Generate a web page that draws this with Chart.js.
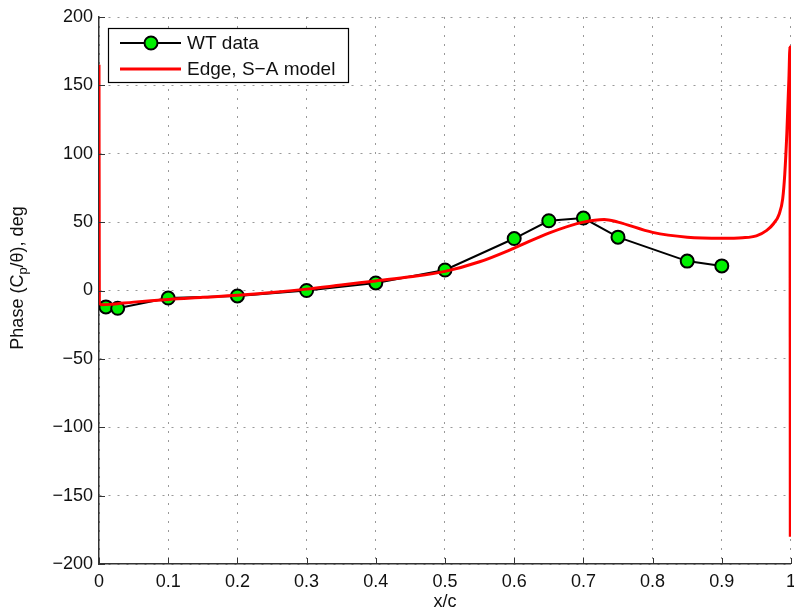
<!DOCTYPE html>
<html>
<head>
<meta charset="utf-8">
<script src="https://cdn.jsdelivr.net/npm/chart.js@4/dist/chart.umd.min.js"></script>
<style>
  html, body { margin: 0; padding: 0; background: #fff; overflow: hidden; }
  #wrap { width: 794px; height: 614px; overflow: hidden; }
</style>
</head>
<body>
<!-- canvas is a bit wider than the frame so the last x label can hang off the edge -->
<div id="wrap"><canvas id="phase-chart" width="803" height="614"></canvas></div>
<script>
// Wind tunnel measurements
const wtX = [0.01, 0.027, 0.1, 0.2, 0.3, 0.4, 0.5, 0.6, 0.65, 0.7, 0.75, 0.85, 0.9];
const wtPhase = [-12, -13, -5.5, -4, 0, 5.5, 15, 38, 51, 53, 39, 21.5, 18];

// Edge solver, Spalart-Allmaras
const edgeX = [0, 0.0005, 0.005, 0.02, 0.05, 0.1, 0.15, 0.2, 0.25, 0.3, 0.35, 0.4, 0.45, 0.5,
    0.55, 0.6, 0.65, 0.7, 0.73, 0.75, 0.8, 0.85, 0.9, 0.93, 0.95, 0.965, 0.975, 0.983, 0.988,
    0.991, 0.994, 0.997, 0.9985, 0.999];
const edgePhase = [165, -9, -10.5, -10, -8.5, -6.5, -5, -3.5, -1.5, 1, 4, 7, 10, 14,
    21, 31, 42, 50, 52, 50, 42.5, 39, 38.2, 38.6, 40, 44, 49, 56, 67,
    85, 115, 155, 178, -180];

const xTicks = [0, 0.1, 0.2, 0.3, 0.4, 0.5, 0.6, 0.7, 0.8, 0.9, 1];
const yTicks = [-200, -150, -100, -50, 0, 50, 100, 150, 200];

const FONT = '"Liberation Sans", Arial, Helvetica, sans-serif';
const AXIS_COLOR = '#333';

function toPoints(xs, ys) {
    return xs.map((x, i) => ({ x: x, y: ys[i] }));
}

function fmt(v) {
    const s = String(Math.round(v * 10) / 10);
    return s.replace('-', '\u2212');
}

// short ticks pointing into the plot, like the old matlab figures
const innerTicks = {
    id: 'innerTicks',
    afterDatasetsDraw(chart) {
        const { ctx, chartArea, scales } = chart;
        ctx.save();
        ctx.strokeStyle = AXIS_COLOR;
        ctx.lineWidth = 1;
        ctx.beginPath();
        xTicks.forEach(v => {
            const px = Math.round(scales.x.getPixelForValue(v)) + 0.5;
            ctx.moveTo(px, chartArea.bottom);
            ctx.lineTo(px, chartArea.bottom - 6);
        });
        yTicks.forEach(v => {
            const py = Math.round(scales.y.getPixelForValue(v)) + 0.5;
            ctx.moveTo(chartArea.left, py);
            ctx.lineTo(chartArea.left + 6, py);
        });
        ctx.stroke();
        ctx.restore();
    }
};

// axis titles, y one has a subscript
const axisTitles = {
    id: 'axisTitles',
    afterDraw(chart) {
        const { ctx, chartArea } = chart;
        ctx.save();
        ctx.fillStyle = '#111';
        ctx.font = '18px ' + FONT;
        ctx.textAlign = 'center';
        ctx.textBaseline = 'middle';
        ctx.fillText('x/c', (chartArea.left + chartArea.right) / 2, 602);

        const parts = [
            { t: 'Phase (C', size: 18, dy: 0 },
            { t: 'p', size: 13, dy: 4 },
            { t: '/\u03b8), deg', size: 18, dy: 0 }
        ];
        let total = 0;
        parts.forEach(p => {
            ctx.font = p.size + 'px ' + FONT;
            p.w = ctx.measureText(p.t).width;
            total += p.w;
        });
        ctx.translate(23, 278);
        ctx.rotate(-Math.PI / 2);
        ctx.textAlign = 'left';
        ctx.textBaseline = 'alphabetic';
        let x = -total / 2;
        parts.forEach(p => {
            ctx.font = p.size + 'px ' + FONT;
            ctx.fillText(p.t, x, p.dy);
            x += p.w;
        });
        ctx.restore();
    }
};

// boxed legend in the upper left corner
const boxLegend = {
    id: 'boxLegend',
    afterDraw(chart) {
        const { ctx } = chart;
        const ds = chart.data.datasets;
        ctx.save();
        ctx.fillStyle = '#fff';
        ctx.fillRect(108.5, 28.5, 240, 54);
        ctx.strokeStyle = '#000';
        ctx.lineWidth = 1.2;
        ctx.strokeRect(108.5, 28.5, 240, 54);

        ctx.font = '19px ' + FONT;
        ctx.textBaseline = 'middle';
        ctx.textAlign = 'left';
        [43, 69].forEach((y, i) => {
            const d = ds[i];
            ctx.strokeStyle = d.borderColor;
            ctx.lineWidth = d.borderWidth;
            ctx.beginPath();
            ctx.moveTo(120, y);
            ctx.lineTo(181, y);
            ctx.stroke();
            if (d.pointRadius > 0) {
                ctx.beginPath();
                ctx.arc(151, y, d.pointRadius, 0, Math.PI * 2);
                ctx.fillStyle = d.pointBackgroundColor;
                ctx.fill();
                ctx.lineWidth = d.pointBorderWidth;
                ctx.strokeStyle = d.pointBorderColor;
                ctx.stroke();
            }
            ctx.fillStyle = '#111';
            ctx.fillText(d.label, 187, y + 1);
        });
        ctx.restore();
    }
};

new Chart(document.getElementById('phase-chart'), {
    type: 'scatter',
    data: {
        datasets: [{
            label: 'WT data',
            data: toPoints(wtX, wtPhase),
            showLine: true,
            borderColor: '#000',
            borderWidth: 2,
            pointRadius: 6.5,
            pointBackgroundColor: '#00f000',
            pointBorderColor: '#000',
            pointBorderWidth: 2,
            order: 1
        }, {
            label: 'Edge, S\u2212A model',
            data: toPoints(edgeX, edgePhase),
            showLine: true,
            borderColor: '#ff0000',
            borderWidth: 3,
            pointRadius: 0,
            cubicInterpolationMode: 'monotone',
            order: 0
        }]
    },
    options: {
        responsive: false,
        animation: false,
        layout: { padding: { top: 17, right: 0, left: 0, bottom: 0 } },
        plugins: {
            legend: { display: false },
            tooltip: { enabled: false }
        },
        scales: {
            x: {
                type: 'linear',
                min: 0,
                max: 1,
                afterBuildTicks: (scale) => { scale.ticks = xTicks.map(v => ({ value: v })); },
                afterFit: (scale) => { scale.height = 50; },
                ticks: {
                    callback: (v) => fmt(v),
                    color: '#111',
                    font: { family: FONT, size: 18 },
                    padding: 7,
                    maxRotation: 0,
                    autoSkip: false
                },
                grid: { color: '#999', lineWidth: 1, drawTicks: false },
                border: { display: true, color: AXIS_COLOR, width: 1.5, dash: [2, 7] }
            },
            y: {
                type: 'linear',
                min: -200,
                max: 200,
                afterBuildTicks: (scale) => { scale.ticks = yTicks.map(v => ({ value: v })); },
                afterFit: (scale) => { scale.width = 99; },
                ticks: {
                    callback: (v) => fmt(v),
                    color: '#111',
                    font: { family: FONT, size: 18 },
                    padding: 6,
                    autoSkip: false
                },
                grid: { color: '#999', lineWidth: 1, drawTicks: false },
                border: { display: true, color: AXIS_COLOR, width: 1.5, dash: [2, 7] }
            }
        }
    },
    plugins: [innerTicks, axisTitles, boxLegend]
});
</script>
</body>
</html>
